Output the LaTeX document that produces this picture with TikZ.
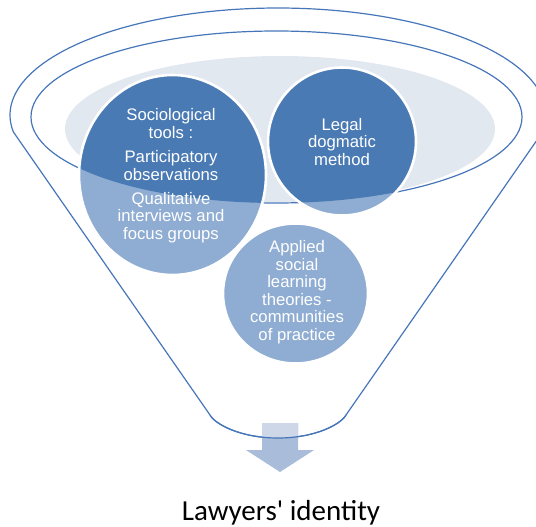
\documentclass[tikz,border=0pt]{standalone}
\usepackage{fontspec}
\setmainfont{Liberation Sans}
\newfontfamily\carlitofont{Carlito}
\definecolor{fdark}{RGB}{74,122,180}
\definecolor{flight}{RGB}{143,173,210}
\definecolor{fgrey}{RGB}{226,232,240}
\definecolor{fline}{RGB}{70,118,185}
\definecolor{arlight}{RGB}{205,215,232}
\definecolor{ardark}{RGB}{169,188,218}
\tikzset{
  funnelline/.style={draw=fline, line width=1.2pt},
  ctext/.style={anchor=base, inner sep=0pt, text=white, font=\fontsize{16.7}{17.5}\selectfont},
  whiteedge/.style={draw=white, line width=2.6pt}
}
\begin{document}
\begin{tikzpicture}[x=1pt,y=-1pt]
\useasboundingbox (0,0) rectangle (536,527);
% background grey ellipse
\fill[fgrey] (280,129) ellipse [x radius=215pt, y radius=73pt];
% inner rim ellipse
\draw[funnelline] (276.5,117) ellipse [x radius=245.5pt, y radius=86pt];
% outer funnel
\draw[funnelline, line join=round]
  plot[domain=170.85:369.15, samples=120] ({278+268*cos(\x)}, {115+107*sin(\x)})
  -- (346,415) .. controls (341,424) and (316,438) .. (278,438)
  .. controls (240,438) and (215,424) .. (210,415) -- cycle;
% circles: light fill
\fill[flight] (172.5,175) ellipse [x radius=93.5pt, y radius=100pt];
\fill[flight] (342,141.5) circle [radius=74pt];
% dark part inside rim
\begin{scope}
  \clip (276.5,117) ellipse [x radius=245.5pt, y radius=86pt];
  \fill[fdark] (172.5,175) ellipse [x radius=93.5pt, y radius=100pt];
  \fill[fdark] (342,141.5) circle [radius=74pt];
\end{scope}
\draw[whiteedge] (172.5,175) ellipse [x radius=93.5pt, y radius=100pt];
\draw[whiteedge] (342,141.5) circle [radius=74pt];
\fill[flight] (295.5,293.5) ellipse [x radius=72.5pt, y radius=70pt];
\draw[whiteedge] (295.5,293.5) ellipse [x radius=72.5pt, y radius=70pt];
% texts
\node[ctext] (s1) at (171,120.7) {Sociological};
\node[ctext] (s2) at (171,138.3) {tools :};
\node[ctext] (s3) at (171,162.7) {Participatory};
\node[ctext] (s4) at (171,180.2) {observations};
\node[ctext] (s5) at (171,204.3) {Qualitative};
\node[ctext] (s6) at (171,221.8) {interviews and};
\node[ctext] (s7) at (171,239.3) {focus groups};
\node[ctext] (l1) at (342,130) {Legal};
\node[ctext] (l2) at (342,147.7) {dogmatic};
\node[ctext] (l3) at (342,165.5) {method};
\node[ctext] (a1) at (297,252.8) {Applied};
\node[ctext] (a2) at (297,270.3) {social};
\node[ctext] (a3) at (297,287.8) {learning};
\node[ctext] (a4) at (297,305.3) {theories -};
\node[ctext] (a5) at (297,322.6) {communities};
\node[ctext] (a6) at (297,340.1) {of practice};
% arrow
\fill[ardark] (262,423) -- (298,423) -- (298,450) -- (314,450) -- (280,472) -- (246,450) -- (262,450) -- cycle;
\begin{scope}
  \clip plot[domain=170.85:369.15, samples=120] ({278+268*cos(\x)}, {115+107*sin(\x)})
  -- (346,415) .. controls (341,424) and (316,438) .. (278,438)
  .. controls (240,438) and (215,424) .. (210,415) -- cycle;
  \fill[arlight] (262,423) -- (298,423) -- (298,450) -- (314,450) -- (280,472) -- (246,450) -- (262,450) -- cycle;
\end{scope}
\draw[funnelline] (346,415) .. controls (341,424) and (316,438) .. (278,438)
  .. controls (240,438) and (215,424) .. (210,415);
% label
\node[anchor=base, inner sep=0pt, font=\carlitofont\fontsize{29}{34}\selectfont] (out) at (281,520) {Lawyers' identity};
\end{tikzpicture}
\end{document}
